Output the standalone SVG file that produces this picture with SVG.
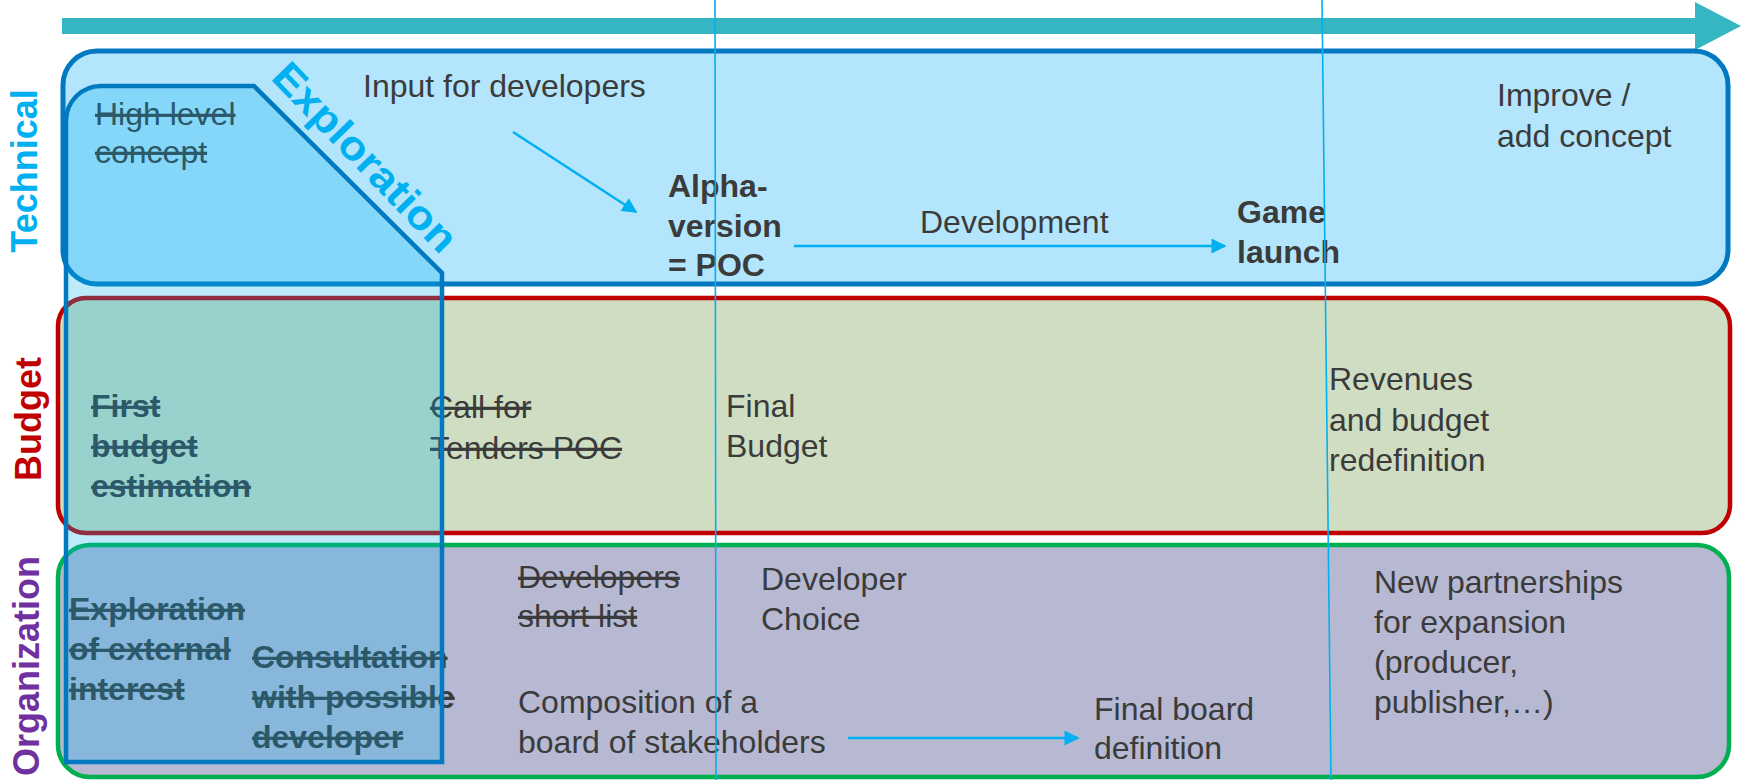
<svg xmlns="http://www.w3.org/2000/svg" width="1741" height="780" viewBox="0 0 1741 780">
<style>
text{font-family:"Liberation Sans",Arial,sans-serif;font-size:32px;fill:#3b3b3b}
.b{font-weight:bold}
.s{text-decoration:line-through}
.lab{font-weight:bold;font-size:36px}
.thin{stroke:#00B0F0;stroke-width:1.6;fill:none}
.conn{stroke:#00B0F0;stroke-width:2.5;fill:none}
</style>
<defs>
<marker id="ah" viewBox="0 0 10 10" refX="9" refY="5" markerWidth="7" markerHeight="6" markerUnits="strokeWidth" orient="auto">
<path d="M0,0 L10,5 L0,10 Z" fill="#00B0F0"/>
</marker>
</defs>
<g id="timeline">
<rect x="62" y="18" width="1634" height="16" fill="#35B6C2"/>
<polygon points="1695,2 1741,26 1695,50" fill="#35B6C2"/>
</g>
<g id="technical">
<rect x="63" y="51" width="1665" height="233" rx="34" fill="#B3E5FC" stroke="#0079C1" stroke-width="5"/>
<text class="lab" transform="translate(37,171) rotate(-90)" text-anchor="middle" style="fill:#00B0F0">Technical</text>
</g>
<g id="budget">
<rect x="58" y="298" width="1672" height="235" rx="28" fill="#CFDEC2" stroke="#C00000" stroke-width="4.5"/>
<text class="lab" transform="translate(41,419) rotate(-90)" text-anchor="middle" style="fill:#C00000">Budget</text>
</g>
<g id="organization">
<rect x="58" y="545" width="1671" height="232" rx="32" fill="#B7B9D3" stroke="#00B050" stroke-width="4.5"/>
<text class="lab" transform="translate(39,666) rotate(-90)" text-anchor="middle" style="fill:#7030A0">Organization</text>
</g>
<g id="high-level-concept"><text class="s" x="95" y="125">High level</text><text class="s" x="95" y="163">concept</text></g>
<g id="input-for-developers"><text x="363" y="97">Input for developers</text></g>
<g id="alpha-version"><text class="b" x="668" y="197">Alpha-</text><text class="b" x="668" y="237">version</text><text class="b" x="668" y="276">= POC</text></g>
<g id="development"><text x="920" y="233">Development</text></g>
<g id="game-launch"><text class="b" x="1237" y="223">Game</text><text class="b" x="1237" y="263">launch</text></g>
<g id="improve-concept"><text x="1497" y="106">Improve /</text><text x="1497" y="147">add concept</text></g>
<g id="first-budget"><text class="b s" x="91" y="417">First</text><text class="b s" x="91" y="457">budget</text><text class="b s" x="91" y="497">estimation</text></g>
<g id="call-for-tenders"><text class="s" x="430" y="418">Call for</text><text class="s" x="430" y="459">Tenders POC</text></g>
<g id="final-budget"><text x="726" y="417">Final</text><text x="726" y="457">Budget</text></g>
<g id="revenues"><text x="1329" y="390">Revenues</text><text x="1329" y="431">and budget</text><text x="1329" y="471">redefinition</text></g>
<g id="exploration-external"><text class="b s" x="69" y="620">Exploration</text><text class="b s" x="69" y="660">of external</text><text class="b s" x="69" y="700">interest</text></g>
<g id="consultation"><text class="b s" x="252" y="668">Consultation</text><text class="b s" x="252" y="708">with possible</text><text class="b s" x="252" y="748">developer</text></g>
<g id="developers-short-list"><text class="s" x="518" y="588">Developers</text><text class="s" x="518" y="627">short list</text></g>
<g id="developer-choice"><text x="761" y="590">Developer</text><text x="761" y="630">Choice</text></g>
<g id="composition-board"><text x="518" y="713">Composition of a</text><text x="518" y="753">board of stakeholders</text></g>
<g id="final-board"><text x="1094" y="720">Final board</text><text x="1094" y="759">definition</text></g>
<g id="new-partnerships"><text x="1374" y="593">New partnerships</text><text x="1374" y="633">for expansion</text><text x="1374" y="673">(producer,</text><text x="1374" y="713">publisher,…)</text></g>
<g id="exploration">
<path d="M66,762 L66,121 A35,35 0 0 1 101,86 L254,86 L442,273 L442,762 Z" fill="#00B0F0" fill-opacity="0.26" stroke="#0079C1" stroke-width="4.5" stroke-linejoin="miter"/>
<text class="b" transform="translate(355,167) rotate(46) scale(1.09,1)" text-anchor="middle" style="font-size:41px;fill:#00B0F0">Exploration</text>
</g>
<g id="connectors">
<line class="thin" x1="715" y1="0" x2="716" y2="780"/>
<line class="thin" x1="1322" y1="0" x2="1331" y2="780"/>
<line class="conn" x1="513" y1="132" x2="636" y2="212" marker-end="url(#ah)"/>
<line class="conn" x1="794" y1="246" x2="1225" y2="246" marker-end="url(#ah)"/>
<line class="conn" x1="848" y1="738" x2="1078" y2="738" marker-end="url(#ah)"/>
</g>
</svg>
